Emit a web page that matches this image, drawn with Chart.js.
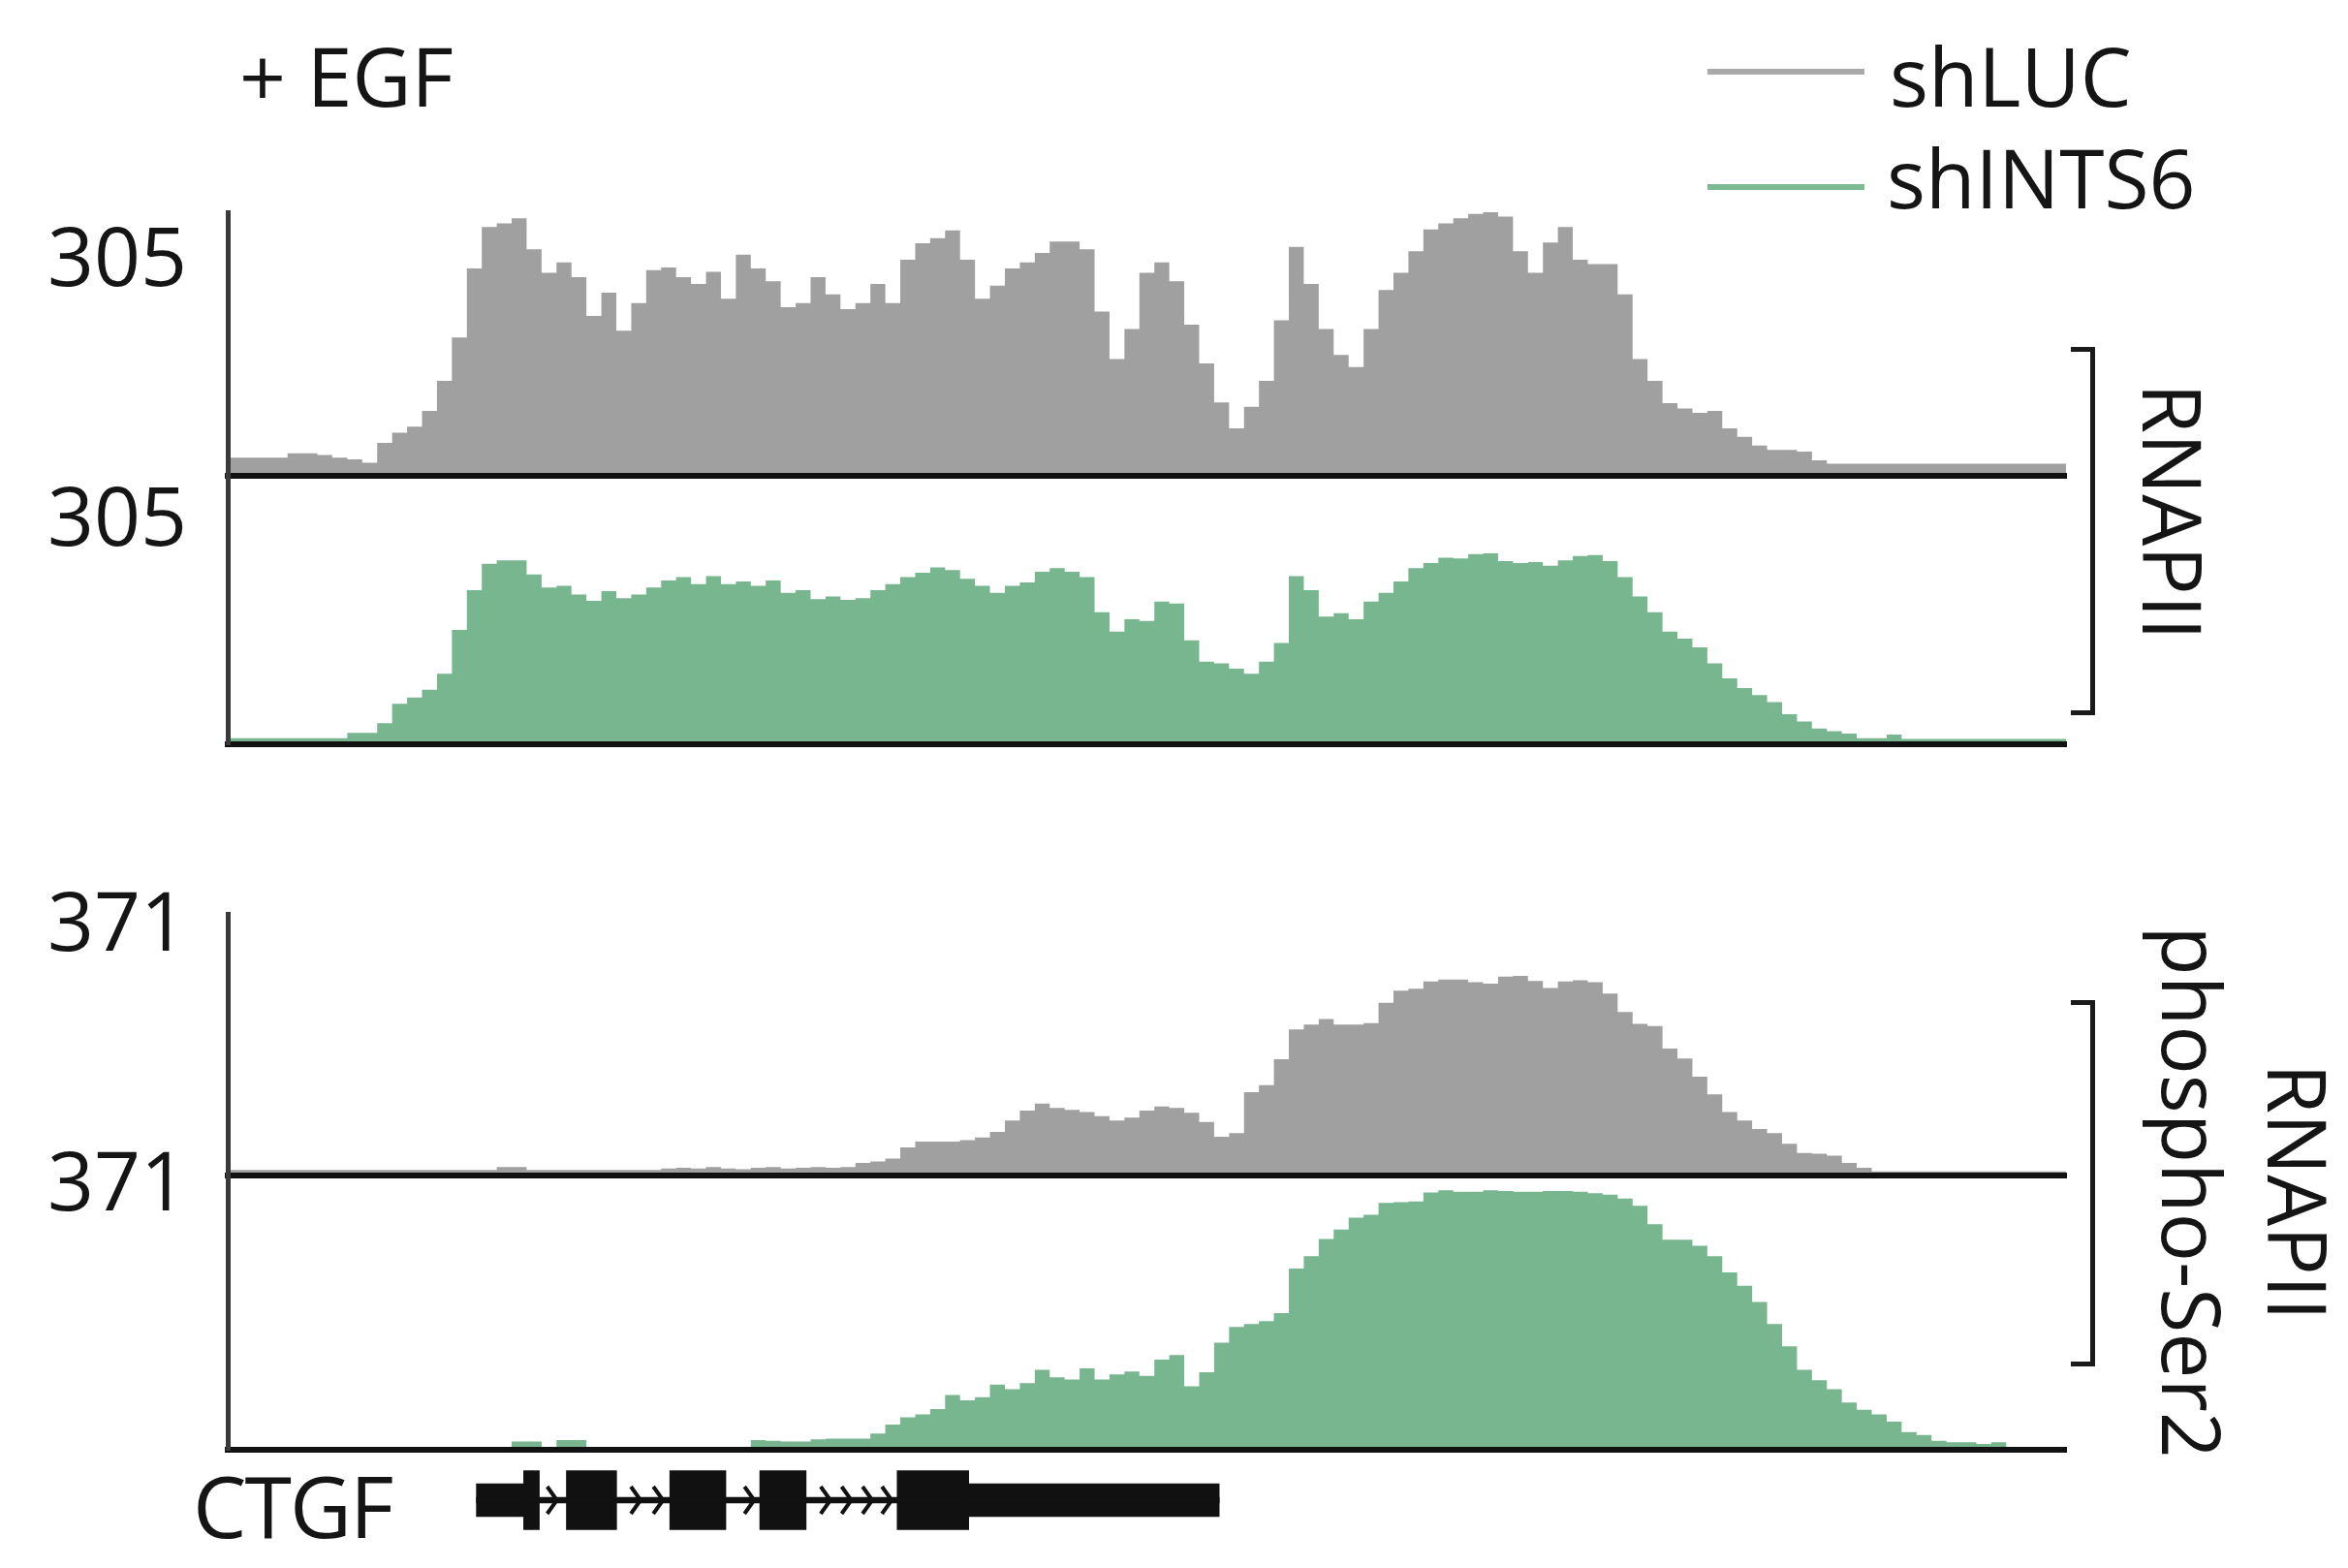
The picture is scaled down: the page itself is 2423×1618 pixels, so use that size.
<!DOCTYPE html>
<html>
<head>
<meta charset="utf-8">
<script src="https://cdn.jsdelivr.net/npm/chart.js@4.4.1/dist/chart.umd.min.js"></script>
<style>
  html, body { margin: 0; padding: 0; background: #fff; }
  #page { position: relative; width: 2423px; height: 1618px; overflow: hidden;
          font-family: "Open Sans", "Noto Sans", sans-serif; color: #151515; }
  canvas { position: absolute; left: 0; }
  .txt { position: absolute; font-size: 84px; line-height: 1; white-space: nowrap; }
  .key { position: absolute; width: 162px; height: 6px; }
  .bracket { position: absolute; width: 20px; border: 5px solid #1a1a1a; border-left: none; }
  .side { position: absolute; font-size: 84px; white-space: nowrap; text-align: center;
          transform: translate(-50%, -50%) rotate(90deg); }
</style>
</head>
<body>
<div id="page">
  <canvas id="c1"></canvas>
  <canvas id="c2"></canvas>
  <canvas id="c3"></canvas>
  <canvas id="c4"></canvas>
  <canvas id="gene"></canvas>

  <div class="txt" style="left:247px; top:36px;">+ EGF</div>
  <div class="key" style="left:1762px; top:71px; background:#a9a9a9;"></div>
  <div class="txt" style="left:1950px; top:36px;">shLUC</div>
  <div class="key" style="left:1762px; top:190px; background:#7dba94;"></div>
  <div class="txt" style="left:1947px; top:141px;">shINTS6</div>

  <div class="bracket" style="left:2137px; top:358px; height:370px;"></div>
  <div class="side" style="left:2243px; top:528px; line-height:1;">RNAPII</div>
  <div class="bracket" style="left:2137px; top:1032px; height:368px;"></div>
  <div class="side" style="left:2318px; top:1230px; line-height:109px;">RNAPII<br>phospho-Ser2</div>

  <div class="txt" style="left:199px; top:1509px; font-size:88px; letter-spacing:-2px;">CTGF</div>
</div>

<script>
// read counts per genomic bin (123 bins across the locus)
const rnapiiShLUC = [
  21, 21, 21, 21, 26, 26, 24, 21, 19, 15,
  38, 50, 57, 75, 110, 160, 240, 288, 292, 298,
  262, 235, 247, 230, 185, 212, 168, 200, 238, 241,
  230, 222, 236, 205, 256, 240, 225, 195, 200, 230,
  210, 193, 200, 222, 200, 250, 269, 275, 284, 250,
  205, 220, 240, 247, 258, 271, 271, 262, 190, 135,
  170, 235, 247, 225, 175, 130, 85, 55, 80, 110,
  180, 265, 222, 170, 140, 126, 170, 215, 235, 260,
  285, 292, 298, 303, 305, 300, 260, 235, 270, 288,
  250, 245, 245, 210, 135, 110, 84, 78, 73, 75,
  55, 45, 35, 30, 30, 28, 18, 14, 14, 14,
  14, 14, 14, 14, 14, 14, 14, 14, 14, 14,
  14, 14, 14
]
const rnapiiShINTS6 = [
  7, 7, 7, 7, 7, 7, 7, 7, 13, 13,
  24, 46, 53, 62, 80, 130, 175, 205, 209, 209,
  193, 178, 180, 170, 163, 174, 166, 170, 178, 186,
  190, 182, 191, 182, 185, 180, 186, 172, 175, 165,
  168, 164, 166, 175, 182, 190, 195, 201, 198, 188,
  180, 172, 180, 184, 196, 200, 196, 190, 150, 128,
  142, 140, 162, 160, 118, 94, 92, 86, 80, 94,
  115, 191, 175, 145, 149, 142, 162, 172, 185, 200,
  206, 212, 211, 216, 217, 208, 206, 207, 203, 209,
  214, 215, 208, 190, 168, 150, 128, 120, 110, 92,
  75, 64, 56, 48, 34, 26, 18, 15, 12, 7,
  7, 11, 6, 6, 6, 6, 6, 6, 6, 6,
  6, 6, 6
]
const ser2ShLUC = [
  8, 8, 8, 8, 8, 8, 8, 8, 8, 8,
  8, 8, 8, 8, 8, 8, 8, 8, 12, 12,
  8, 8, 8, 8, 8, 8, 8, 8, 8, 10,
  11, 10, 12, 10, 9, 11, 12, 10, 11, 12,
  11, 12, 18, 20, 24, 40, 48, 48, 48, 50,
  54, 62, 78, 92, 102, 96, 93, 90, 84, 78,
  82, 92, 98, 96, 89, 76, 55, 60, 118, 128,
  165, 207, 214, 222, 214, 214, 216, 245, 262, 265,
  275, 278, 278, 274, 272, 282, 283, 276, 266, 275,
  277, 274, 258, 232, 215, 212, 180, 166, 140, 115,
  90, 78, 66, 60, 45, 32, 31, 28, 18, 11,
  6, 6, 6, 6, 6, 6, 6, 6, 6, 6,
  6, 6, 6
]
const ser2ShINTS6 = [
  4, 4, 4, 4, 4, 4, 4, 4, 4, 4,
  4, 4, 4, 4, 4, 4, 4, 4, 4, 11,
  11, 4, 13, 13, 4, 4, 4, 4, 4, 4,
  4, 4, 4, 4, 4, 13, 12, 11, 11, 14,
  15, 15, 15, 22, 34, 44, 48, 55, 74, 67,
  71, 88, 82, 90, 108, 98, 95, 110, 95, 102,
  106, 100, 122, 128, 86, 105, 145, 166, 170, 174,
  185, 245, 262, 285, 298, 314, 318, 334, 335, 336,
  348, 351, 349, 349, 351, 350, 349, 349, 350, 350,
  349, 347, 345, 340, 330, 305, 284, 284, 276, 262,
  240, 222, 200, 170, 140, 108, 94, 82, 64, 54,
  48, 38, 24, 20, 12, 10, 10, 8, 10, 4,
  4, 4, 4
]

// track scale maxima shown as the axis labels
const rnapiiMax = 305
const ser2Max = 371

// CTGF gene model, in the same bin coordinates
const geneName = "CTGF"
const geneSpan = [16.64, 66.34]
const utrRegions = [[16.64, 19.8], [49.58, 66.34]]
const codingExons = [[19.8, 20.85], [22.66, 26.02], [29.58, 33.33], [35.6, 38.7], [44.79, 49.58]]
const intronChevrons = [21.7, 27.3, 28.8, 34.9, 40.0, 41.4, 42.8, 44.1]

const PLOT_LEFT = 235
const PLOT_RIGHT = 2132
const CANVAS_W = 2160
const PAD = 110
const GRAY = "#a0a0a0"
const GREEN = "#77b68f"
const binCount = rnapiiShLUC.length

function makeTrack(id, values, max, color, top, height, labelShift) {
  const canvas = document.getElementById(id)
  canvas.width = CANVAS_W
  canvas.height = height + 2 * PAD
  canvas.style.top = (top - PAD) + "px"

  // one point per bin start, plus the closing edge of the last bin
  const points = values.map((v, i) => ({ x: i, y: v }))
  points.push({ x: values.length, y: values[values.length - 1] })

  return new Chart(canvas, {
    type: "line",
    data: {
      datasets: [{
        data: points,
        stepped: "before",
        fill: "origin",
        backgroundColor: color,
        borderWidth: 0,
        pointRadius: 0,
      }],
    },
    options: {
      responsive: false,
      animation: false,
      layout: { padding: { top: PAD, bottom: PAD, left: 0, right: CANVAS_W - PLOT_RIGHT } },
      plugins: { legend: { display: false }, tooltip: { enabled: false } },
      scales: {
        x: {
          type: "linear",
          min: 0,
          max: values.length,
          grid: { display: false, drawTicks: false },
          ticks: { display: false },
          border: { display: true, color: "#111", width: 6, z: 1 },
        },
        y: {
          min: 0,
          max: max,
          afterBuildTicks: (scale) => { scale.ticks = [{ value: max }] },
          afterFit: (scale) => { scale.width = PLOT_LEFT },
          grid: { display: false, drawTicks: false },
          border: { display: true, color: "#3a3a3a", width: 5, z: 1 },
          ticks: {
            padding: 42,
            labelOffset: labelShift,
            color: "#151515",
            font: { family: "'Open Sans', sans-serif", size: 84 },
          },
        },
      },
    },
  })
}

makeTrack("c1", rnapiiShLUC, rnapiiMax, GRAY, 219, 272, 52)
makeTrack("c2", rnapiiShINTS6, rnapiiMax, GREEN, 491, 277, 48)
makeTrack("c3", ser2ShLUC, ser2Max, GRAY, 943, 270, 14)
makeTrack("c4", ser2ShINTS6, ser2Max, GREEN, 1213, 283, 12)

// small ">" marks along the introns
const chevronPlugin = {
  id: "chevrons",
  afterDatasetsDraw(chart) {
    const { ctx, scales } = chart
    const cy = scales.y.getPixelForValue(0)
    ctx.save()
    ctx.strokeStyle = "#111"
    ctx.lineWidth = 4
    intronChevrons.forEach((pos) => {
      const px = scales.x.getPixelForValue(pos)
      ctx.beginPath()
      ctx.moveTo(px - 5, cy - 14)
      ctx.lineTo(px + 5, cy)
      ctx.lineTo(px - 5, cy + 14)
      ctx.stroke()
    })
    ctx.restore()
  },
}

const geneCanvas = document.getElementById("gene")
geneCanvas.width = CANVAS_W
geneCanvas.height = 100
geneCanvas.style.top = "1498px"

new Chart(geneCanvas, {
  type: "bar",
  data: {
    labels: [geneName],
    datasets: [
      { data: [{ x: geneSpan, y: geneName }], barThickness: 6, backgroundColor: "#111", grouped: false },
      { data: utrRegions.map((r) => ({ x: r, y: geneName })), barThickness: 34, backgroundColor: "#111", grouped: false },
      { data: codingExons.map((r) => ({ x: r, y: geneName })), barThickness: 61, backgroundColor: "#111", grouped: false },
    ],
  },
  options: {
    indexAxis: "y",
    responsive: false,
    animation: false,
    layout: { padding: { left: PLOT_LEFT, right: CANVAS_W - PLOT_RIGHT, top: 0, bottom: 0 } },
    plugins: { legend: { display: false }, tooltip: { enabled: false } },
    scales: {
      x: { type: "linear", min: 0, max: binCount, display: false },
      y: { display: false },
    },
  },
  plugins: [chevronPlugin],
})
</script>
</body>
</html>
